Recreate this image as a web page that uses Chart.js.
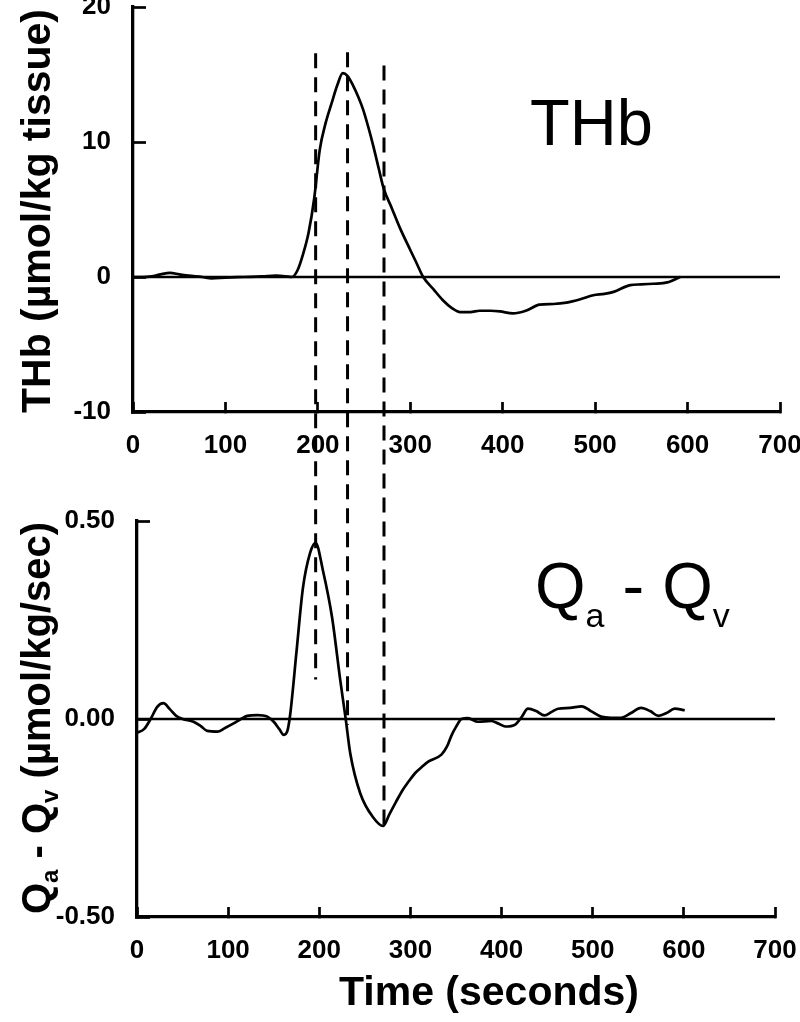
<!DOCTYPE html>
<html><head><meta charset="utf-8">
<script src="https://cdn.jsdelivr.net/npm/chart.js@4"></script>
<style>
html,body{margin:0;padding:0;background:#fff;}
#wrap{position:relative;width:800px;height:1022px;}
canvas{position:absolute;left:0;top:0;}
</style></head><body>
<div id="wrap"><canvas id="cTop" width="800" height="1022"></canvas><canvas id="cBot" width="800" height="1022"></canvas></div>
<script>
// ---- data ----
const thbTime   = [0,10,20,30,40,50,60,75,85,100,120,140,155,165,172,178,184,190,196,202,208,215,221,227,232,238,244,249,255,260,266,271,280,289,300,307,314,325,335,345,354,365,375,387,397,411,425,440,455,469,484,498,510,520,538,550,563,578,592];
const thbValues = [0,0,0.05,0.2,0.3,0.2,0.1,0,-0.1,-0.05,0,0.05,0.1,0.05,0,0.5,1.7,3.3,5.8,9.4,11.3,12.9,14.2,15.1,14.9,14.2,13.3,12.4,11.0,9.7,8.0,6.6,5.1,3.6,2.0,1.0,0,-0.9,-1.7,-2.3,-2.6,-2.6,-2.5,-2.5,-2.55,-2.7,-2.5,-2.05,-2.0,-1.9,-1.65,-1.35,-1.25,-1.1,-0.6,-0.55,-0.5,-0.4,0];
const qTime   = [0,8,15,22,29,36,43,50,62,70,77,88,97,106,114,121,132,143,150,156,161,165,168,175,182,190,196,204,214,223,229,234,245,259,270,277,284,291,298,305,313,320,334,340,345,350,356,363,374,389,397,404,415,422,429,438,447,455,462,475,488,498,509,520,531,542,553,563,572,581,590,601];
const qValues = [-0.035,-0.025,0,0.03,0.04,0.025,0.008,0,-0.007,-0.018,-0.03,-0.032,-0.022,-0.011,0,0.008,0.01,0.006,-0.007,-0.025,-0.04,-0.03,0.01,0.17,0.33,0.42,0.445,0.375,0.257,0.098,0,-0.087,-0.188,-0.248,-0.27,-0.24,-0.21,-0.181,-0.158,-0.137,-0.12,-0.107,-0.09,-0.07,-0.042,-0.02,0,0.002,-0.007,-0.005,-0.012,-0.019,-0.014,0.005,0.026,0.02,0.009,0.018,0.026,0.028,0.032,0.02,0.006,0.003,0.003,0.015,0.028,0.02,0.008,0.015,0.026,0.022];
// vertical time markers (drawn on the lower panel's scale, running up through the upper panel)
const markerTimes = [196, 231, 271];
const markerTopQ  = [1.681, 1.684, 1.650];
const markerEndQ  = [0.10, -0.015, -0.27];
const xTicks   = [0,100,200,300,400,500,600,700];
const thbTicks = [-10,0,10,20];
const qTicks   = [-0.5,0,0.5];
const thbLabel = 'THb';
const thbAxisTitle = 'THb (\u00b5mol/kg tissue)';
const qAxisTitleParts = ['Q','a',' - ','Q','v',' (\u00b5mol/kg/sec)'];
const timeTitle = 'Time (seconds)';

// ---- helpers ----
const FF = 'Arial, "Liberation Sans", sans-serif';
Chart.defaults.font.family = FF;
Chart.defaults.color = '#000';

function drawRich(ctx, segs, x, y, rot, align) {
  ctx.save();
  ctx.translate(x, y);
  ctx.rotate(rot);
  ctx.textBaseline = 'alphabetic';
  ctx.textAlign = 'left';
  ctx.fillStyle = '#000';
  let total = 0;
  for (const s of segs) { ctx.font = s.font; total += ctx.measureText(s.text).width; }
  let cx = align === 'center' ? -total / 2 : 0;
  for (const s of segs) {
    ctx.font = s.font;
    ctx.fillText(s.text, cx, s.dy || 0);
    cx += ctx.measureText(s.text).width;
  }
  ctx.restore();
}
const fixFit = size => s => {
  if (s.isHorizontal()) s.height = size; else s.width = size;
  s.paddingLeft = s.paddingRight = s.paddingTop = s.paddingBottom = 0;
};
const pts = (xs, ys) => xs.map((x, i) => ({x, y: ys[i]}));
const lineDs = (data, extra) => Object.assign({data, showLine: true, pointRadius: 0, borderColor: '#000', borderWidth: 2.7, fill: false}, extra || {});
const axisCommon = (ticksArr, min, max, isX, size, fmt) => ({
  type: 'linear', min, max,
  afterBuildTicks: s => { s.ticks = ticksArr.map(v => ({value: v})); },
  afterFit: fixFit(size),
  grid: {display: true, drawOnChartArea: false, drawTicks: true, tickLength: isX ? -10 : -13, tickWidth: 2.7, tickColor: '#000'},
  border: {display: true, width: 3.3, color: '#000'},
  ticks: {color: '#000', font: {size: 26, weight: 'bold'}, padding: isX ? 28 : 35, maxRotation: 0, autoSkip: false, callback: fmt || (v => String(v))}
});

// ---- top chart (THb) ----
new Chart(document.getElementById('cTop'), {
  type: 'scatter',
  data: {datasets: [
    lineDs([{x: 0, y: 0}, {x: 700, y: 0}]),
    lineDs(pts(thbTime, thbValues), {cubicInterpolationMode: 'monotone'})
  ]},
  options: {
    responsive: false, animation: false,
    layout: {autoPadding: false, padding: {left: 0, top: 7, right: 20, bottom: 550}},
    plugins: {legend: {display: false}, tooltip: {enabled: false}},
    scales: {
      x: axisCommon(xTicks, 0, 700, true, 60),
      y: axisCommon(thbTicks, -10, 20, false, 133)
    }
  },
  plugins: [{
    id: 'topText',
    afterDraw(chart) {
      const ctx = chart.ctx;
      drawRich(ctx, [{text: thbLabel, font: '65px ' + FF}], 530, 145, 0, 'left');
      drawRich(ctx, [{text: thbAxisTitle, font: 'bold 41px ' + FF}], 50, 211, -Math.PI / 2, 'center');
    }
  }]
});

// ---- bottom chart (Qa - Qv) ----
const botDatasets = [
  lineDs([{x: 0, y: 0}, {x: 700, y: 0}]),
  lineDs(pts(qTime, qValues), {cubicInterpolationMode: 'monotone'})
];
markerTimes.forEach((t, i) => botDatasets.push(lineDs([{x: t, y: markerTopQ[i]}, {x: t, y: markerEndQ[i]}], {borderDash: [15, 9], borderWidth: 3, clip: false})));

new Chart(document.getElementById('cBot'), {
  type: 'scatter',
  data: {datasets: botDatasets},
  options: {
    responsive: false, animation: false,
    layout: {autoPadding: false, padding: {left: 0, top: 521, right: 25, bottom: 45}},
    plugins: {legend: {display: false}, tooltip: {enabled: false}},
    scales: {
      x: axisCommon(xTicks, 0, 700, true, 60),
      y: axisCommon(qTicks, -0.5, 0.5, false, 137, v => Number(v).toFixed(2))
    }
  },
  plugins: [{
    id: 'botText',
    afterDraw(chart) {
      const ctx = chart.ctx;
      const big = '65px ' + FF, sub = '34px ' + FF;
      drawRich(ctx, [
        {text: qAxisTitleParts[0], font: big},
        {text: qAxisTitleParts[1], font: sub, dy: 19},
        {text: qAxisTitleParts[2], font: big},
        {text: qAxisTitleParts[3], font: big},
        {text: qAxisTitleParts[4], font: sub, dy: 19}
      ], 535, 608, 0, 'left');
      const B = 'bold 40px ' + FF, S = 'bold 24px ' + FF;
      drawRich(ctx, [
        {text: qAxisTitleParts[0], font: B},
        {text: qAxisTitleParts[1], font: S, dy: 8},
        {text: qAxisTitleParts[2], font: B},
        {text: qAxisTitleParts[3], font: B},
        {text: qAxisTitleParts[4], font: S, dy: 8},
        {text: qAxisTitleParts[5], font: B}
      ], 50, 718, -Math.PI / 2, 'center');
      drawRich(ctx, [{text: timeTitle, font: 'bold 41px ' + FF}], 489, 1005, 0, 'center');
    }
  }]
});
</script>
</body></html>
